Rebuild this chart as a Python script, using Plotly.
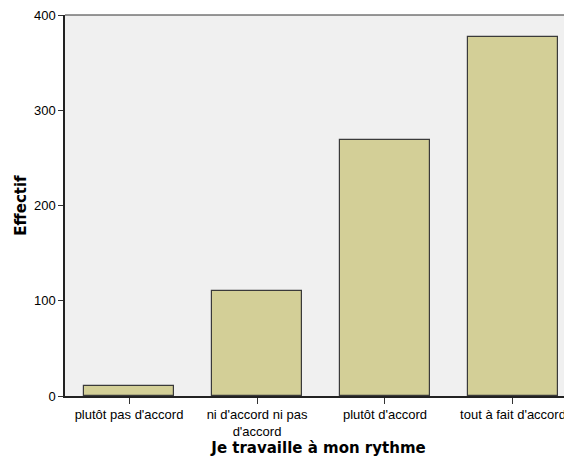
import plotly.graph_objects as go

categories = ["plutôt pas d'accord", "ni d'accord ni pas<br>d'accord", "plutôt d'accord", "tout à fait d'accord"]
effectif = [10, 110, 269, 377]
y_ticks = [0, 100, 200, 300, 400]

fig = go.Figure()
fig.add_trace(go.Bar(
    x=list(range(len(categories))), y=effectif, width=0.71,
    marker=dict(color="#d3cf97", line=dict(color="#3a3a3a", width=1.2)),
))
fig.update_layout(
    width=564, height=449,
    margin=dict(l=57, r=0, t=7, b=61, autoexpand=False),
    paper_bgcolor="white", plot_bgcolor="#f0f0f0",
    showlegend=False, bargap=0,
    font=dict(family="Liberation Sans, Arial, sans-serif", size=13, color="#000"),
)
fig.update_xaxes(
    range=[-0.5, 3.461], tickmode="array", tickvals=list(range(len(categories))),
    ticktext=categories, ticks="outside", ticklen=6, tickcolor="#333",
    showline=True, linecolor="#222", linewidth=1.5, showgrid=False, zeroline=False,
    automargin=False, ticklabeloverflow="allow",
    title=dict(text="<b>Je travaille à mon rythme</b>",
               font=dict(family="DejaVu Sans, sans-serif", size=15), standoff=0),
)
fig.update_yaxes(
    range=[0, 400], tickvals=y_ticks, ticks="outside", ticklen=5, tickcolor="#333",
    showline=True, linecolor="#222", linewidth=1.5, showgrid=False, zeroline=False,
    automargin=False, ticklabeloverflow="allow",
    title=dict(text="<b>Effectif</b>",
               font=dict(family="DejaVu Sans, sans-serif", size=15), standoff=4),
)
fig.add_shape(type="line", xref="paper", yref="paper", x0=0, x1=1, y0=1, y1=1,
              line=dict(color="#333", width=1.2))
fig.write_html("out.html")
